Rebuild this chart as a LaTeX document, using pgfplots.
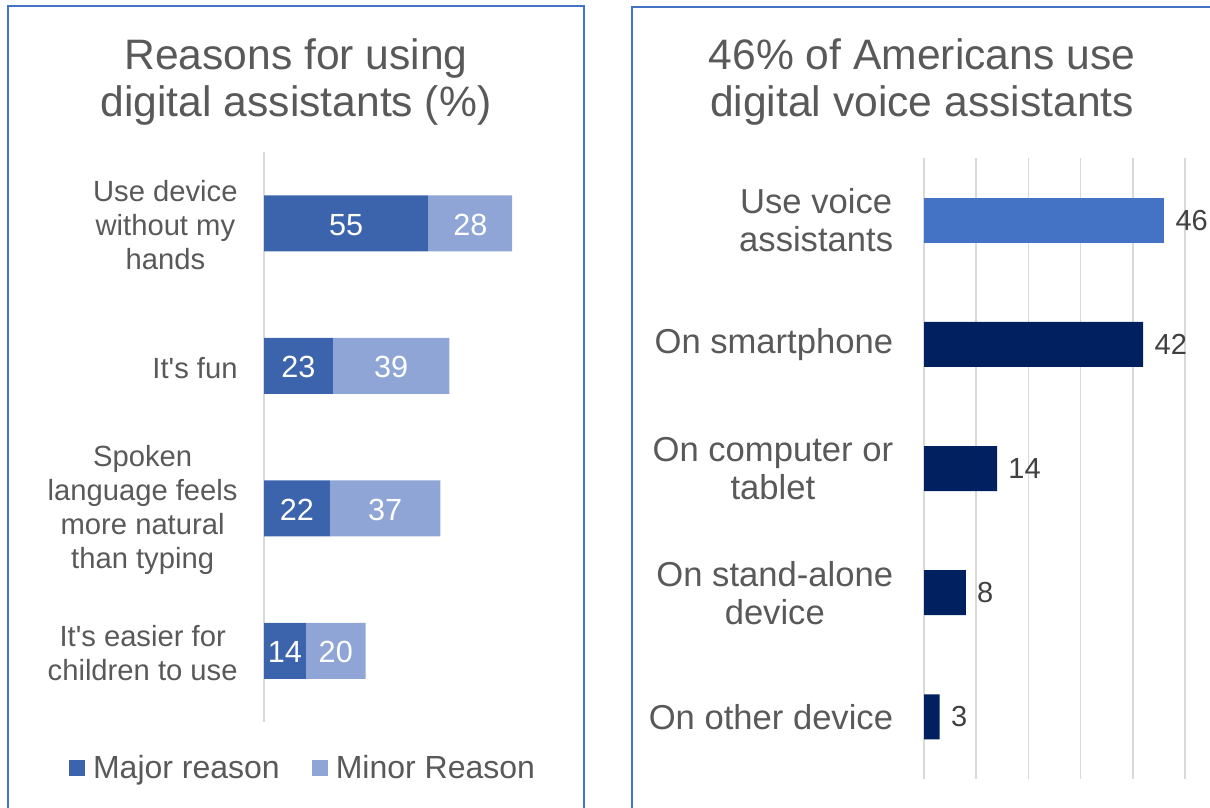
\documentclass[border=0pt]{standalone}
\usepackage{pgfplots}
\usepackage{pgfplotstable}
\pgfplotsset{compat=1.18}
\usepackage{fontspec}
\setmainfont{Liberation Sans}

\definecolor{majorcol}{RGB}{60,100,172}
\definecolor{minorcol}{RGB}{142,165,213}
\definecolor{voicecol}{RGB}{68,114,196}
\definecolor{navycol}{RGB}{0,32,96}
\definecolor{framecol}{RGB}{68,114,196}
\definecolor{txtcol}{RGB}{89,89,89}
\definecolor{lblcol}{RGB}{64,64,64}
\definecolor{gridcol}{RGB}{217,217,217}

\pgfplotsset{/pgf/number format/assume math mode=true}

% reasons for using digital assistants (%)
\pgfplotstableread{
cat major minor
1   55    28
2   23    39
3   22    37
4   14    20
}\reasons

% where voice assistants are used (%)
\pgfplotstableread{
cat share
2   42
3   14
4   8
5   3
}\devices

\begin{document}
\begin{tikzpicture}
\path[use as bounding box] (0,0) rectangle (605pt,-404pt);
\clip (0,0) rectangle (605pt,-404pt);

% panel frames
\draw[framecol, line width=1pt] (4pt,-430pt) -- (4pt,-3pt) -- (292pt,-3pt) -- (292pt,-430pt);
\draw[framecol, line width=1pt] (316pt,-430pt) -- (316pt,-3.5pt) -- (640pt,-3.5pt);

% titles
\node[txtcol, align=center, font=\fontsize{21.3}{23.5}\selectfont] at (148pt,-41pt)
  {Reasons for using\\digital assistants (\%)};
\node[txtcol, align=center, font=\fontsize{21.3}{23.5}\selectfont] at (461pt,-41pt)
  {46\% of Americans use\\digital voice assistants};

\pgfplotsset{leftbox/.style={
  at={(132pt,-361pt)}, anchor=south west,
  scale only axis, width=149.5pt, height=285pt,
  xmin=0, xmax=100, ymin=0.5, ymax=4.5, y dir=reverse,
  enlargelimits=false}}

% left: reasons
\begin{axis}[
  leftbox,
  xbar stacked, bar width=28pt,
  axis line style={draw=none}, tick style={draw=none},
  xtick={0}, xticklabels={}, xmajorgrids,
  grid style={gridcol, line width=0.75pt},
  ytick={1,2,3,4},
  yticklabels={{Use device\\without my\\hands},{It\textquotesingle s fun},
    {Spoken\\language feels\\more natural\\than typing},
    {It\textquotesingle s easier for\\children to use}},
  yticklabel style={txtcol, align=center, font=\fontsize{14.6}{17}\selectfont,
    inner sep=0pt, xshift=-13pt, yshift=-1pt},
  legend columns=2,
  legend style={at={(0.134,-0.081)}, anchor=center, draw=none, fill=none,
    font=\fontsize{16}{19}\selectfont, text=txtcol,
    /tikz/every odd column/.append style={column sep=2pt},
    /tikz/every even column/.append style={column sep=14pt}},
  legend image code/.code={\draw[#1,draw=none] (0pt,-4pt) rectangle (8pt,4pt);},
]
\addplot[fill=majorcol, draw=none] table[x=major, y=cat] {\reasons};
\addplot[fill=minorcol, draw=none] table[x=minor, y=cat] {\reasons};
\legend{Major reason, Minor Reason}
\end{axis}

% left: value labels centred in each segment
\begin{axis}[
  leftbox, hide axis,
  nodes near coords, point meta=explicit,
  every node near coord/.append style={white, anchor=center, inner sep=0pt,
    yshift=-0.75pt, font=\fontsize{15.3}{18}\selectfont},
]
\addplot[draw=none, mark=none] table[x expr=\thisrow{major}/2, y=cat, meta=major] {\reasons};
\addplot[draw=none, mark=none] table[x expr=\thisrow{major}+\thisrow{minor}/2, y=cat, meta=minor] {\reasons};
\end{axis}

% right: voice assistants
\begin{axis}[
  at={(462pt,-389.5pt)}, anchor=south west,
  scale only axis, width=130.5pt, height=310.5pt,
  xbar, bar width=22.5pt, bar shift=0pt,
  xmin=0, xmax=50, ymin=0.5, ymax=5.5, y dir=reverse,
  enlargelimits=false,
  axis line style={draw=none}, tick style={draw=none},
  xtick={0,10,20,30,40,50}, xticklabels={}, xmajorgrids,
  grid style={gridcol, line width=0.75pt},
  ytick={1,2,3,4,5},
  yticklabels={{Use voice\\assistants},{On smartphone},{On computer or\\tablet},
    {On stand-alone\\device},{On other device}},
  yticklabel style={txtcol, align=center, font=\fontsize{17.3}{19}\selectfont,
    inner sep=0pt, xshift=-11pt},
  nodes near coords,
  every node near coord/.append style={lblcol, anchor=west, inner sep=0pt,
    xshift=5.5pt, font=\fontsize{14.5}{17}\selectfont},
]
\addplot[fill=voicecol, draw=none] coordinates {(46,1)};
\addplot[fill=navycol, draw=none] table[x=share, y=cat] {\devices};
\end{axis}
\end{tikzpicture}
\end{document}
